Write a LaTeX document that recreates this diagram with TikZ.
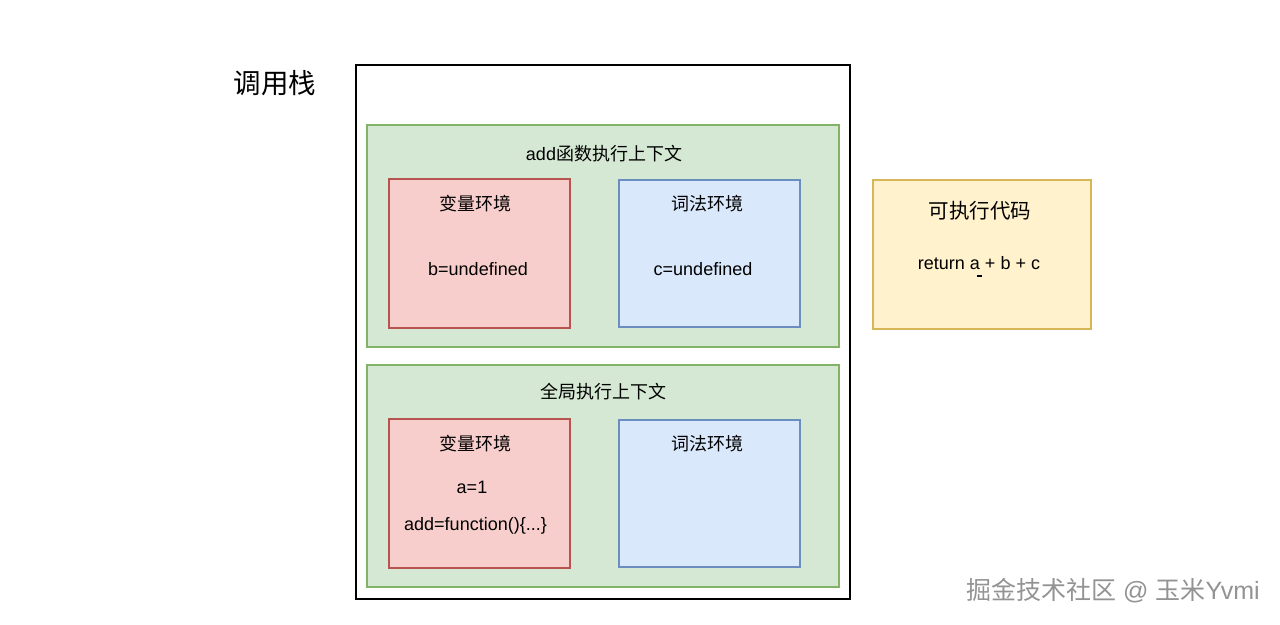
\documentclass[tikz,border=0pt]{standalone}
\usepackage{fontspec}
\setmainfont{Liberation Sans}
\newfontfamily\cjk{Noto Sans CJK SC}
\definecolor{gfill}{HTML}{D5E8D4}\definecolor{gdraw}{HTML}{82B366}
\definecolor{rfill}{HTML}{F8CECC}\definecolor{rdraw}{HTML}{B85450}
\definecolor{bfill}{HTML}{DAE8FC}\definecolor{bdraw}{HTML}{6C8EBF}
\definecolor{yfill}{HTML}{FFF2CC}\definecolor{ydraw}{HTML}{D6B656}
\begin{document}
\begin{tikzpicture}[x=1pt,y=-1pt,
  boxg/.style={draw=gdraw,fill=gfill,line width=2.5pt},
  boxr/.style={draw=rdraw,fill=rfill,line width=2.5pt},
  boxb/.style={draw=bdraw,fill=bfill,line width=2.5pt},
  boxy/.style={draw=ydraw,fill=yfill,line width=2.5pt},
  txt/.style={font=\fontsize{18}{22}\selectfont,inner sep=0pt,anchor=center}]
\useasboundingbox (0,0) rectangle (1280,624);
\fill[white] (0,0) rectangle (1280,624);
% outer stack
\draw[line width=2.2pt] (356,65) rectangle (850,599);
\node[txt,font=\fontsize{27.5}{32}\selectfont\cjk] (title) at (275,83) {调用栈};
% add context
\draw[boxg] (367,125) rectangle (839,347);
\node[txt] (addctx) at (604,154) {add{\cjk 函数执行上下文}};
\draw[boxr] (389,179) rectangle (570,328);
\node[txt,font=\fontsize{18}{22}\selectfont\cjk] (v1) at (475,204) {变量环境};
\node[txt] (b) at (478,269) {b=undefined};
\draw[boxb] (619,180) rectangle (800,327);
\node[txt,font=\fontsize{18}{22}\selectfont\cjk] (l1) at (707,204) {词法环境};
\node[txt] (c) at (703,269) {c=undefined};
% global context
\draw[boxg] (367,365) rectangle (839,587);
\node[txt,font=\fontsize{18}{22}\selectfont\cjk] (gctx) at (603,392) {全局执行上下文};
\draw[boxr] (389,419) rectangle (570,568);
\node[txt,font=\fontsize{18}{22}\selectfont\cjk] (v2) at (475,444) {变量环境};
\node[txt] (a) at (472,487) {a=1};
\node[txt] (f) at (475.5,526) {add=function()\{...\}};
\draw[boxb] (619,420) rectangle (800,567);
\node[txt,font=\fontsize{18}{22}\selectfont\cjk] (l2) at (707,444) {词法环境};
% executable code
\draw[boxy] (873,180) rectangle (1091,329);
\node[txt,font=\fontsize{20.5}{24}\selectfont\cjk] (exec) at (980,211) {可执行代码};
\node[txt] (ret) at (979,263) {return a + b + c};
\draw[line width=1.6pt] (976.5,276) -- (981.5,276);
% watermark
\node[txt,font=\fontsize{25}{30}\selectfont,text=gray!85] (wm) at (1113,591) {{\cjk 掘金技术社区} @ {\cjk 玉米}Yvmi};
\end{tikzpicture}
\end{document}
